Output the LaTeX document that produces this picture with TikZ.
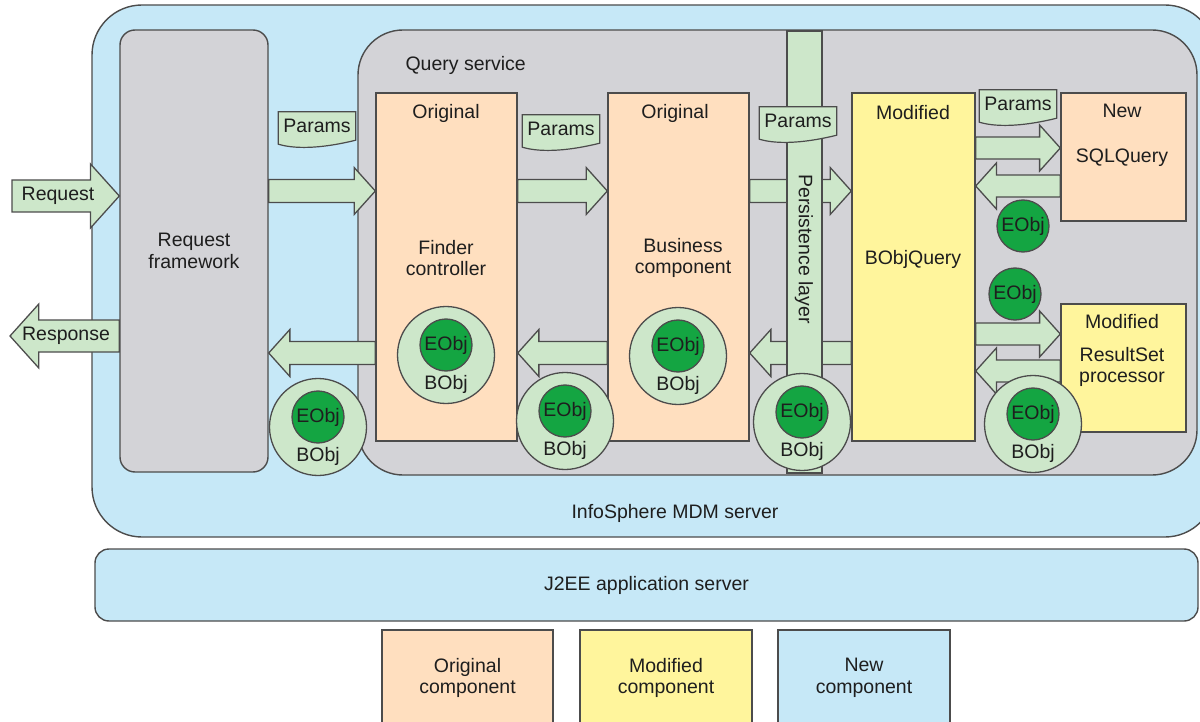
\documentclass[tikz,border=0pt]{standalone}
\usepackage{fontspec}
\setmainfont{Liberation Sans}
\usepackage{tikz}
\usetikzlibrary{calc}

\definecolor{serverblue}{HTML}{C6E8F7}
\definecolor{boxgray}{HTML}{D3D3D7}
\definecolor{origpeach}{HTML}{FFDFBF}
\definecolor{modyellow}{HTML}{FFF59C}
\definecolor{objgreen}{HTML}{CDE7CA}
\definecolor{eobjgreen}{HTML}{14A542}
\definecolor{edge}{HTML}{4C4C4C}
\definecolor{ink}{HTML}{1E1E1E}

% block arrow between two points: from, to, shaft half width, head half width
\newcommand\fatarrow[4]{%
  \draw[fat] let \p1=(#1), \p2=(#2), \n1={sign(\x2-\x1)} in
    (\x1,{\y1+#3}) -- ({\x2-\n1*0.9*#4},{\y1+#3}) -- ({\x2-\n1*0.9*#4},{\y1+#4})
    -- (\x2,\y1) -- ({\x2-\n1*0.9*#4},{\y1-#4}) -- ({\x2-\n1*0.9*#4},{\y1-#3})
    -- (\x1,{\y1-#3}) -- cycle;}
% BObj circle holding an EObj
\newcommand\bobj[2]{%
  \node[bobjcirc] (#1) at (#2) {};
  \node[eobjcirc] (#1e) at ([yshift=10pt]#1.center) {EObj};
  \node (#1b) at ([yshift=-29pt]#1.center) {BObj};}
% Params note with a wavy lower edge
\newcommand\params[2]{%
  \node[paramtext] (#1) at (#2) {};
  \draw[flag] (#1.north west) -- (#1.north east) -- ([yshift=3pt]#1.south east)
    .. controls +(-28pt,-7pt) and +(20pt,-6pt) .. ([yshift=-1pt]#1.south west) -- cycle;
  \node (#1t) at ([yshift=-14pt]#1.north) {Params};}

\begin{document}
\begin{tikzpicture}[x=1pt, y=-1pt,
    every node/.style={font=\fontsize{19.5}{21.5}\selectfont, text=ink},
    box/.style={draw=edge, line width=1.4pt, inner sep=0pt, align=center},
    fat/.style={draw=edge, fill=objgreen, line width=1.3pt, line join=miter},
    flag/.style={draw=edge, fill=objgreen, line width=1.2pt},
    paramtext/.style={inner sep=0pt, minimum width=77pt, minimum height=31pt},
    bobjcirc/.style={circle, draw=edge, fill=objgreen, line width=1.3pt, minimum size=97pt, inner sep=0pt},
    eobjcirc/.style={circle, draw=edge, fill=eobjgreen, line width=1.3pt, minimum size=52pt, inner sep=0pt}]
    \useasboundingbox (0,0) rectangle (1200,722);
    \clip (0,0) rectangle (1200,722);

    % servers
    \node[box, fill=serverblue, rounded corners=50pt, minimum width=1123pt, minimum height=532pt] (mdm) at (653.5,271) {};
    \node (mdmlbl) at (675,513) {InfoSphere MDM server};
    \node[box, fill=serverblue, rounded corners=14pt, minimum width=1103pt, minimum height=72pt] (j2ee) at (646.5,585) {J2EE application server};

    % legend
    \node[box, fill=origpeach, minimum width=171pt, minimum height=96pt] (lgorig) at (467.5,678) {Original\\component};
    \node[box, fill=modyellow, minimum width=172pt, minimum height=96pt] (lgmod) at (666,678) {Modified\\component};
    \node[box, fill=serverblue, minimum width=172pt, minimum height=96pt] (lgnew) at (864,678) {New\\component};

    % request framework and query service
    \node[box, fill=boxgray, rounded corners=15pt, minimum width=148pt, minimum height=442pt] (rf) at (194,251) {Request\\framework};
    \node[box, fill=boxgray, rounded corners=45pt, minimum width=839pt, minimum height=445pt] (qs) at (777.5,252.5) {};
    \node[anchor=west] (qslbl) at (402,65) {Query service};

    % components
    \node[box, fill=origpeach, minimum width=141pt, minimum height=348pt] (fc) at (446.5,267) {};
    \node (fctitle) at (446,113) {Original};
    \node[align=center] (fctext) at (446,258) {Finder\\controller};
    \node[box, fill=origpeach, minimum width=141pt, minimum height=348pt] (bc) at (678.5,267) {};
    \node (bctitle) at (675,113) {Original};
    \node[align=center] (bctext) at (683,258) {Business\\component};
    \node[box, fill=modyellow, minimum width=123pt, minimum height=348pt] (bq) at (913.5,267) {};
    \node (bqtitle) at (913,113) {Modified};
    \node (bqtext) at (913,259) {BObjQuery};
    \node[box, fill=origpeach, minimum width=125pt, minimum height=128pt] (sq) at (1123.5,157) {};
    \node (sqtitle) at (1122,111) {New};
    \node (sqtext) at (1122,158) {SQLQuery};
    \node[box, fill=modyellow, minimum width=125pt, minimum height=128pt] (rs) at (1123.5,368) {};
    \node (rstitle) at (1122,322) {Modified};
    \node[align=center] (rstext) at (1122,367) {ResultSet\\processor};

    % arrows
    \coordinate (reqstart) at (12,196);
    \coordinate (respend) at (10,336);
    \coordinate (upper) at (0,191);
    \coordinate (lower) at (0,353);
    \coordinate (sqlout) at (0,148);
    \coordinate (sqlback) at (0,186);
    \coordinate (rsout) at (0,334);
    \coordinate (rsback) at (0,371);
    \fatarrow{reqstart}{rf.west |- reqstart}{16pt}{32pt}
    \node (reqlbl) at (58,196) {Request};
    \fatarrow{rf.west |- respend}{respend}{16pt}{32pt}
    \node (resplbl) at (66,336) {Response};
    \fatarrow{rf.east |- upper}{fc.west |- upper}{11.5pt}{23.5pt}
    \fatarrow{fc.west |- lower}{rf.east |- lower}{11.5pt}{23.5pt}
    \fatarrow{fc.east |- upper}{bc.west |- upper}{11.5pt}{23.5pt}
    \fatarrow{bc.west |- lower}{fc.east |- lower}{11.5pt}{23.5pt}
    \fatarrow{bc.east |- upper}{bq.west |- upper}{11.5pt}{23.5pt}
    \fatarrow{bq.west |- lower}{bc.east |- lower}{11.5pt}{23.5pt}
    \fatarrow{bq.east |- sqlout}{sq.west |- sqlout}{11pt}{23pt}
    \fatarrow{sq.west |- sqlback}{bq.east |- sqlback}{11pt}{23pt}
    \fatarrow{bq.east |- rsout}{rs.west |- rsout}{11pt}{23pt}
    \fatarrow{rs.west |- rsback}{bq.east |- rsback}{11pt}{23pt}

    % persistence layer
    \node[box, fill=objgreen, minimum width=35pt, minimum height=442pt] (pl) at (804.5,252) {};
    \node[rotate=-90] (pllbl) at (804,249) {Persistence layer};

    % business objects
    \bobj{objrf}{318,427}
    \bobj{objfc}{446,355}
    \bobj{objmid}{565,421}
    \bobj{objbc}{678,356}
    \bobj{objpl}{802,422}
    \bobj{objrs}{1033,424}
    \node[eobjcirc] (eobja) at (1023,226) {EObj};
    \node[eobjcirc] (eobjb) at (1015,294) {EObj};

    % params notes
    \params{prma}{317,127.5}
    \params{prmb}{561,130.5}
    \params{prmc}{798,122.5}
    \params{prmd}{1018,105.5}
\end{tikzpicture}
\end{document}
